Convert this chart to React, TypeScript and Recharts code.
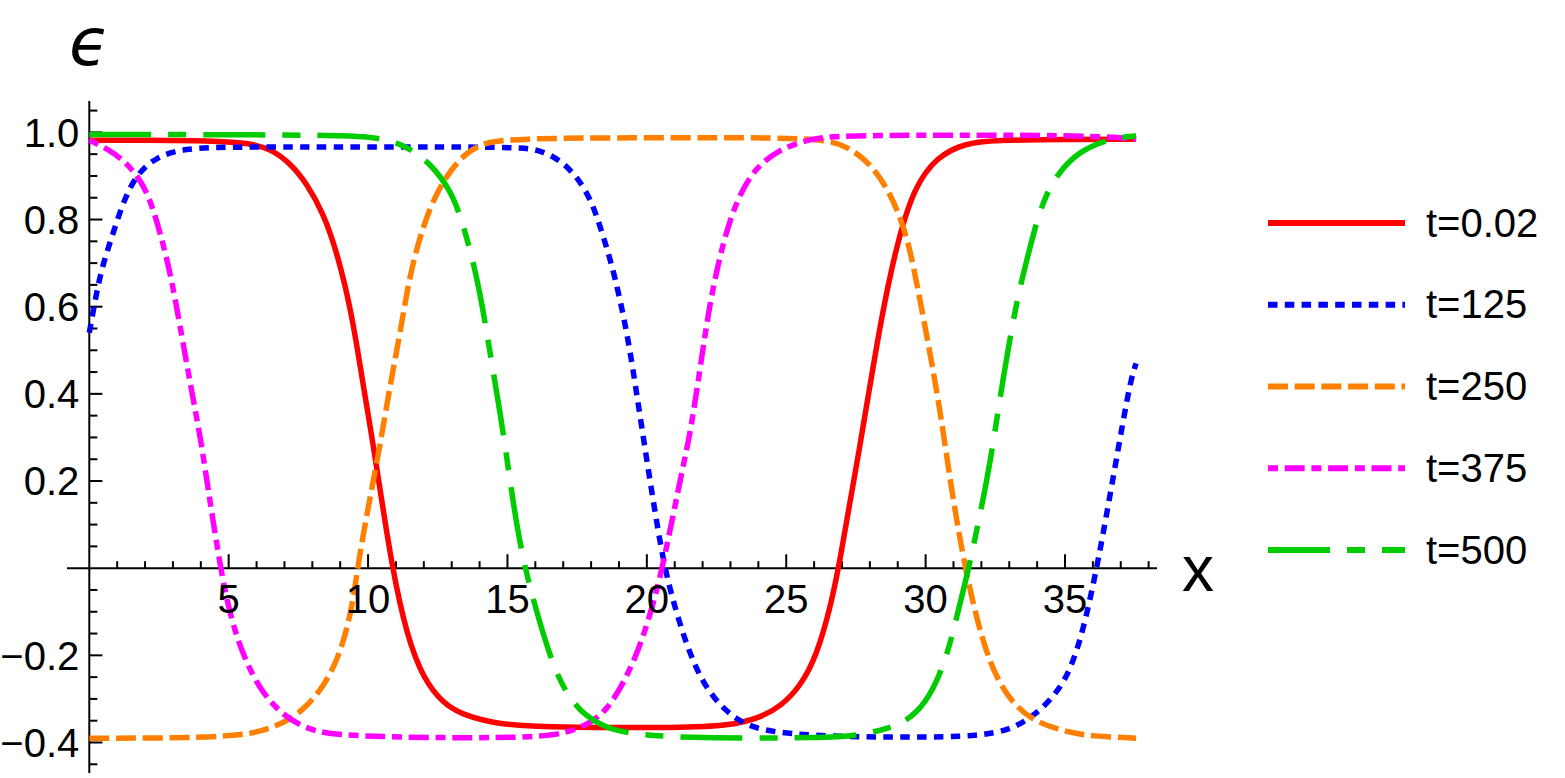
import { LineChart, Line, XAxis, YAxis, ReferenceLine } from "recharts"

type Pt = [number, number]

// values (x, epsilon)
const t002: Pt[] = [
  [0, 0.982], [2, 0.982], [4, 0.981], [5, 0.978], [5.8, 0.974], [6.5, 0.962], [7.2, 0.93], [7.8, 0.883],
  [8.4, 0.814], [8.9, 0.722], [9.4, 0.588], [9.7, 0.47], [10.1, 0.315], [10.35, 0.215], [10.86, 0], [11.4, -0.157],
  [12, -0.256], [12.7, -0.31], [13.3, -0.334], [14.5, -0.356], [15.7, -0.363], [18, -0.366], [21, -0.366],
  [23, -0.362], [24.1, -0.342], [24.8, -0.317], [25.5, -0.272], [26.1, -0.2], [26.6, -0.085], [26.88, 0],
  [27.7, 0.3], [28.4, 0.575], [29, 0.753], [29.6, 0.875], [30.4, 0.944], [31.4, 0.975], [32.5, 0.982],
  [35, 0.984], [37.55, 0.984],
]

const t125: Pt[] = [
  [0, 0.54], [0.28, 0.64], [0.5, 0.7], [0.87, 0.772], [1.23, 0.843], [1.7, 0.904], [2.4, 0.944],
  [3.4, 0.963], [5, 0.967], [10, 0.966], [15.4, 0.967], [16.2, 0.959], [16.9, 0.936], [17.5, 0.898],
  [18, 0.845], [18.33, 0.783], [18.7, 0.707], [19.05, 0.615], [19.4, 0.501], [19.8, 0.33], [20.24, 0.149],
  [20.6, 0.011], [20.96, -0.08], [21.44, -0.18], [22, -0.264], [22.75, -0.325], [23.6, -0.363],
  [24.7, -0.378], [26.5, -0.386], [29, -0.388], [31.4, -0.387], [32.56, -0.378], [33.27, -0.363],
  [34, -0.333], [34.7, -0.287], [35.2, -0.233], [35.66, -0.142], [36.14, 0], [36.5, 0.126],
  [36.86, 0.256], [37.34, 0.43], [37.55, 0.47],
]

const t250: Pt[] = [
  [0, -0.39], [3, -0.39], [4.8, -0.386], [5.8, -0.38], [6.5, -0.367], [7.2, -0.348], [7.8, -0.317],
  [8.4, -0.272], [8.9, -0.21], [9.24, -0.142], [9.5, -0.06], [9.62, 0], [9.96, 0.126], [10.4, 0.27],
  [10.8, 0.424], [11.15, 0.539], [11.5, 0.677], [12, 0.791], [12.5, 0.868], [13.2, 0.936], [14, 0.975],
  [15.1, 0.986], [20, 0.988], [25, 0.988], [26.6, 0.982], [27.3, 0.963], [28, 0.929], [28.6, 0.875],
  [29.1, 0.806], [29.45, 0.73], [29.8, 0.615], [30.16, 0.493], [30.52, 0.363], [31, 0.149], [31.42, 0],
  [31.84, -0.119], [32.3, -0.218], [32.9, -0.294], [33.75, -0.348], [34.95, -0.375], [36, -0.386],
  [37.55, -0.39],
]

const t375: Pt[] = [
  [0, 0.982], [0.75, 0.959], [1.35, 0.929], [1.83, 0.891], [2.19, 0.845], [2.55, 0.768], [2.91, 0.677],
  [3.26, 0.554], [3.62, 0.424], [3.98, 0.302], [4.22, 0.2], [4.7, 0], [5.06, -0.111], [5.53, -0.203],
  [6.13, -0.279], [6.85, -0.333], [7.81, -0.371], [9, -0.385], [13, -0.39], [16.3, -0.388],
  [17.25, -0.375], [17.97, -0.356], [18.57, -0.325], [19.17, -0.264], [19.76, -0.18], [20.24, -0.08],
  [20.55, 0], [20.96, 0.126], [21.32, 0.241], [21.56, 0.31], [21.92, 0.462], [22.27, 0.615],
  [22.75, 0.753], [23.23, 0.845], [23.83, 0.914], [24.67, 0.959], [25.86, 0.986], [27, 0.994],
  [36, 0.994], [37.55, 0.984],
]

const t500: Pt[] = [
  [0, 0.995], [5, 0.995], [9, 0.993], [9.84, 0.991], [10.8, 0.982], [11.5, 0.963], [12.23, 0.929],
  [12.95, 0.868], [13.3, 0.81], [13.67, 0.73], [14.02, 0.631], [14.26, 0.539], [14.62, 0.401],
  [14.9, 0.29], [15.22, 0.141], [15.58, 0.011], [16.06, -0.103], [16.42, -0.18], [16.89, -0.264],
  [17.61, -0.333], [18.57, -0.367], [19.28, -0.378], [21, -0.39], [26.6, -0.39], [27.77, -0.382],
  [28.97, -0.363], [29.69, -0.333], [30.28, -0.279], [30.76, -0.203], [31.12, -0.111], [31.55, 0],
  [31.96, 0.126], [32.32, 0.241], [32.8, 0.447], [33.27, 0.615], [33.63, 0.707], [34.11, 0.829],
  [34.71, 0.906], [35.55, 0.959], [36.62, 0.986], [37.55, 0.992],
]

const seriesNames = ["t=0.02", "t=125", "t=250", "t=375", "t=500"]
const seriesData = [t002, t125, t250, t375, t500]
const seriesColors = ["#ff0000", "#0000ff", "#ff8000", "#ff00ff", "#00cc00"]
const seriesDash = ["", "9.5 7.3", "20 6.7", "10 6.7 20 6.7", "62 17 18 17"]

const xTickLabels = [5, 10, 15, 20, 25, 30, 35]
const yTickLabels = [1.0, 0.8, 0.6, 0.4, 0.2, -0.2, -0.4]

const xMinor = Array.from({ length: 38 }, (_, i) => i + 1).filter((v) => v % 5 !== 0)
const yMinor = Array.from({ length: 31 }, (_, i) => Math.round((-0.45 + i * 0.05) * 100) / 100).filter(
  (v) => v !== 0 && Math.round(v * 100) % 20 !== 0
)

const FONT = "'Liberation Sans', Arial, sans-serif"
const FS = 40
const X_DOMAIN: [number, number] = [-0.8, 38.3]
const Y_DOMAIN: [number, number] = [-0.47, 1.072]
// tick lengths in data units
const XT_MAJOR = 0.032
const XT_MINOR = 0.016
const YT_MAJOR = 0.47
const YT_MINOR = 0.29

const fmt = (v: number) => (v < 0 ? "\u2212" + Math.abs(v).toFixed(1) : v.toFixed(1))

function ChartLegend() {
  return (
    <svg width={300} height={420} style={{ position: "absolute", left: 1268, top: 190 }}>
      {seriesNames.map((name, i) => {
        const y = 33 + i * 81.75
        return (
          <g key={name}>
            <line
              x1={0}
              x2={137}
              y1={y}
              y2={y}
              stroke={seriesColors[i]}
              strokeWidth={6}
              strokeDasharray={seriesDash[i] || undefined}
            />
            <text x={158} y={y} dy="0.34em" fontSize={FS} fontFamily={FONT} fill="#000">
              {name}
            </text>
          </g>
        )
      })}
    </svg>
  )
}

export default function App() {
  return (
    <div style={{ position: "absolute", left: 0, top: 0, width: 1565, height: 778, background: "#fff" }}>
      <LineChart width={1565} height={778} margin={{ top: 101, right: 408, bottom: 5, left: 67 }}>
        <XAxis type="number" dataKey="x" domain={X_DOMAIN} allowDataOverflow hide />
        <YAxis type="number" dataKey="y" domain={Y_DOMAIN} allowDataOverflow hide />

        <ReferenceLine
          y={0}
          stroke="#000"
          strokeWidth={2}
          label={{ value: "x", position: "right", offset: 25, fontSize: 64, fontFamily: FONT, fill: "#000" }}
        />
        <ReferenceLine
          x={0}
          stroke="#000"
          strokeWidth={2}
          label={{
            value: "\u03f5",
            position: "top",
            offset: 36,
            fontSize: 66,
            fontStyle: "italic",
            fontFamily: "'DejaVu Sans', sans-serif",
            fill: "#000",
          }}
        />

        {xTickLabels.map((v) => (
          <ReferenceLine
            key={"xt" + v}
            segment={[{ x: v, y: 0 }, { x: v, y: XT_MAJOR }]}
            stroke="#000"
            strokeWidth={2}
            label={{ value: String(v), position: "bottom", offset: 16, fontSize: FS, fontFamily: FONT, fill: "#000" }}
          />
        ))}
        {xMinor.map((v) => (
          <ReferenceLine key={"xm" + v} segment={[{ x: v, y: 0 }, { x: v, y: XT_MINOR }]} stroke="#000" strokeWidth={2} />
        ))}
        {yTickLabels.map((v) => (
          <ReferenceLine
            key={"yt" + v}
            segment={[{ x: 0, y: v }, { x: YT_MAJOR, y: v }]}
            stroke="#000"
            strokeWidth={2}
            label={{ value: fmt(v), position: "left", offset: 10, fontSize: FS, fontFamily: FONT, fill: "#000" }}
          />
        ))}
        {yMinor.map((v) => (
          <ReferenceLine key={"ym" + v} segment={[{ x: 0, y: v }, { x: YT_MINOR, y: v }]} stroke="#000" strokeWidth={2} />
        ))}

        {seriesData.map((pts, i) => (
          <Line
            key={seriesNames[i]}
            data={pts.map(([x, y]) => ({ x, y }))}
            dataKey="y"
            name={seriesNames[i]}
            type="basis"
            stroke={seriesColors[i]}
            strokeWidth={5.5}
            strokeDasharray={seriesDash[i] || undefined}
            dot={false}
            activeDot={false}
            isAnimationActive={false}
          />
        ))}
      </LineChart>
      <ChartLegend />
    </div>
  )
}
